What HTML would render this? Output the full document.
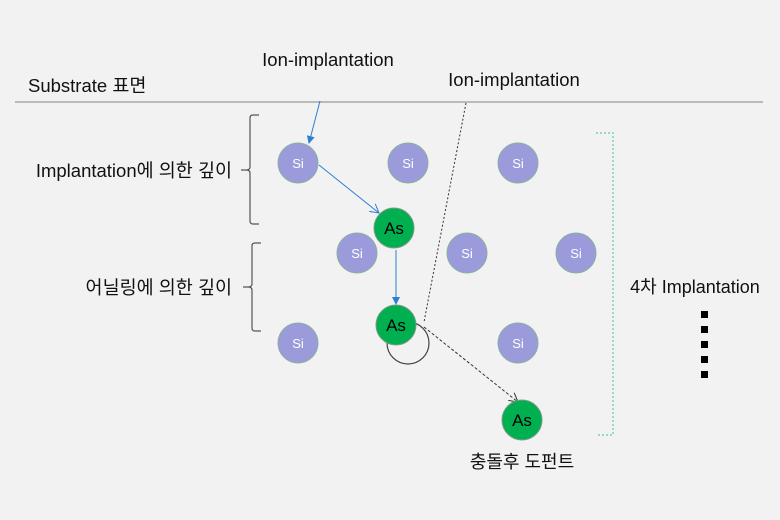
<!DOCTYPE html>
<html><head><meta charset="utf-8"><style>
body{margin:0;background:#f2f2f2}
svg{display:block}
text{font-family:"Liberation Sans","Noto Sans CJK KR",sans-serif}
</style></head><body>
<svg width="780" height="520" viewBox="0 0 780 520">
<rect width="780" height="520" fill="#f2f2f2"/>
<defs>
<marker id="ab" markerWidth="8" markerHeight="8" refX="7" refY="4" orient="auto" markerUnits="userSpaceOnUse"><path d="M0,0 L8,4 L0,8 Z" fill="#2f7fd0"/></marker>
<marker id="ao" markerWidth="10" markerHeight="10" refX="9" refY="5" orient="auto" markerUnits="userSpaceOnUse"><path d="M0,0 L9,5 L0,10" fill="none" stroke="#2f7fd0"/></marker>
<marker id="ak" markerWidth="10" markerHeight="10" refX="9" refY="5" orient="auto" markerUnits="userSpaceOnUse"><path d="M0,0 L9,5 L0,10" fill="none" stroke="#333"/></marker>
</defs>
<text x="28" y="92" font-size="18.5" fill="#111">Substrate 표면</text>
<line x1="15" y1="102" x2="763" y2="102" stroke="#999" stroke-width="1.2"/>
<text x="328" y="66" font-size="18.5" fill="#111" text-anchor="middle">Ion-implantation</text>
<text x="514" y="86" font-size="18.5" fill="#111" text-anchor="middle">Ion-implantation</text>
<text x="232" y="177" font-size="18.5" fill="#111" text-anchor="end">Implantation에 의한 깊이</text>
<text x="232" y="294" font-size="18.5" fill="#111" text-anchor="end">어닐링에 의한 깊이</text>
<text x="695" y="293" font-size="18" fill="#111" text-anchor="middle">4차 Implantation</text>
<text x="522" y="468" font-size="18" fill="#111" text-anchor="middle">충돌후 도펀트</text>
<g fill="#000"><rect x="701" y="311" width="7" height="7"/><rect x="701" y="326" width="7" height="7"/><rect x="701" y="341" width="7" height="7"/><rect x="701" y="356" width="7" height="7"/><rect x="701" y="371" width="7" height="7"/></g>
<path d="M259,115 h-6 q-3,0 -3,3 v49 q0,3 -4,3 h-5 M246,170 q4,0 4,3 v48 q0,3 3,3 h6" fill="none" stroke="#555" stroke-width="1.2"/>
<path d="M261,243 h-6 q-3,0 -3,3 v38 q0,3 -4,3 h-5 M248,287 q4,0 4,3 v38 q0,3 3,3 h6" fill="none" stroke="#555" stroke-width="1.2"/>
<path d="M596,133 h17 v302 h-17" fill="none" stroke="#5fd09a" stroke-width="1.2" stroke-dasharray="2,2"/>
<line x1="466" y1="103" x2="424" y2="322" stroke="#333" stroke-dasharray="2,2"/>
<line x1="424" y1="327" x2="518" y2="402" stroke="#333" stroke-dasharray="3,2" marker-end="url(#ak)"/>
<line x1="320" y1="101" x2="309" y2="143" stroke="#2f7fd0" marker-end="url(#ab)"/>
<line x1="319" y1="165" x2="379" y2="213" stroke="#2f7fd0" marker-end="url(#ao)"/>
<line x1="396" y1="250" x2="396" y2="304" stroke="#2f7fd0" marker-end="url(#ab)"/>
<circle cx="408" cy="343" r="21" fill="none" stroke="#444" stroke-width="1.2"/>
<g stroke="#8ab0a0" stroke-width="1" fill="#9b9bdc">
<circle cx="298" cy="163" r="20"/><circle cx="408" cy="163" r="20"/><circle cx="518" cy="163" r="20"/>
<circle cx="357" cy="253" r="20"/><circle cx="467" cy="253" r="20"/><circle cx="576" cy="253" r="20"/>
<circle cx="298" cy="343" r="20"/><circle cx="518" cy="343" r="20"/>
</g>
<g fill="#00b050" stroke="#7a9a88">
<circle cx="394" cy="228" r="20"/><circle cx="396" cy="325" r="20"/><circle cx="522" cy="420" r="20"/>
</g>
<g fill="#fff" font-size="13" text-anchor="middle">
<text x="298" y="168">Si</text><text x="408" y="168">Si</text><text x="518" y="168">Si</text>
<text x="357" y="258">Si</text><text x="467" y="258">Si</text><text x="576" y="258">Si</text>
<text x="298" y="348">Si</text><text x="518" y="348">Si</text>
</g>
<g fill="#000" font-size="17" text-anchor="middle">
<text x="394" y="234">As</text><text x="396" y="331">As</text><text x="522" y="426">As</text>
</g>
</svg>
</body></html>
